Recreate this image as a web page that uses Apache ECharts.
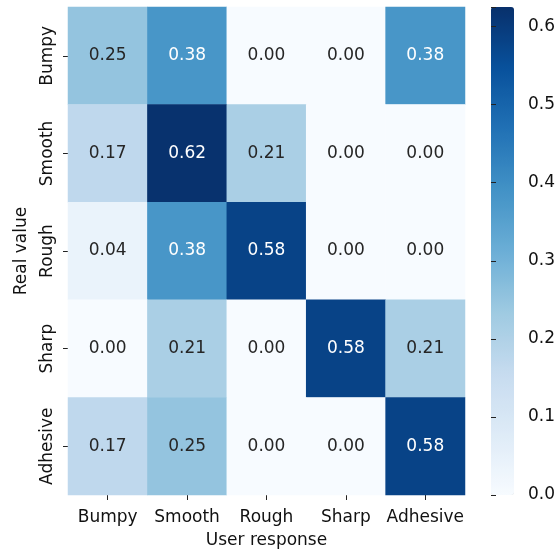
<!DOCTYPE html>
<html>
<head>
<meta charset="utf-8">
<script src="https://cdn.jsdelivr.net/npm/echarts@6/dist/echarts.min.js"></script>
<style>
  html, body { margin: 0; padding: 0; background: #fff; }
  #main { width: 558px; height: 550px; }
</style>
</head>
<body>
<div id="main"></div>
<script>
// confusion matrix: rows = real value, cols = user response
var responses = ['Bumpy', 'Smooth', 'Rough', 'Sharp', 'Adhesive'];
var realValues = ['Bumpy', 'Smooth', 'Rough', 'Sharp', 'Adhesive'];
var rowBumpy    = [0.25, 0.38, 0.00, 0.00, 0.38];
var rowSmooth   = [0.17, 0.62, 0.21, 0.00, 0.00];
var rowRough    = [0.04, 0.38, 0.58, 0.00, 0.00];
var rowSharp    = [0.00, 0.21, 0.00, 0.58, 0.21];
var rowAdhesive = [0.17, 0.25, 0.00, 0.00, 0.58];
var colorbarTicks = [0, 0.1, 0.2, 0.3, 0.4, 0.5, 0.6];

var rows = [rowBumpy, rowSmooth, rowRough, rowSharp, rowAdhesive];
var blues = ['#f7fbff', '#deebf7', '#c6dbef', '#9ecae1', '#6baed6', '#4292c6', '#2171b5', '#08519c', '#08306b'];

var cells = [];
rows.forEach(function (row, r) {
    row.forEach(function (v, c) {
        cells.push({
            value: [c, r, v],
            label: { color: v > 0.3 ? '#ffffff' : '#262626' }
        });
    });
});

var txt = '#111';
var font = 'DejaVu Sans';
var fs = 17;
var hiddenLine = { show: true, lineStyle: { color: 'rgba(0,0,0,0)' } };

var myChart = echarts.init(document.getElementById('main'));
var option = {
    animation: false,
    textStyle: { fontFamily: font },
    grid: [
        { left: 68, top: 7, width: 397, height: 488, outerBoundsMode: 'none', containLabel: false },
        { left: 491, top: 7, width: 23, height: 488, outerBoundsMode: 'none', containLabel: false }
    ],
    xAxis: [{
        gridIndex: 0,
        type: 'category',
        data: responses,
        name: 'User response',
        nameLocation: 'middle',
        nameGap: 37,
        nameTextStyle: { color: txt, fontSize: fs, fontFamily: font },
        axisLine: hiddenLine,
        axisTick: { show: true, alignWithLabel: true, length: 5, lineStyle: { color: '#222' } },
        axisLabel: { color: txt, fontSize: fs, fontFamily: font, margin: 14, interval: 0 },
        splitLine: { show: false }
    }, {
        gridIndex: 1,
        type: 'value',
        show: false
    }],
    yAxis: [{
        gridIndex: 0,
        type: 'category',
        data: realValues,
        inverse: true,
        name: 'Real value',
        nameLocation: 'middle',
        nameGap: 38,
        nameTextStyle: { color: txt, fontSize: fs, fontFamily: font },
        axisLine: hiddenLine,
        axisTick: { show: true, alignWithLabel: true, length: 5, lineStyle: { color: '#222' } },
        axisLabel: { color: txt, fontSize: fs, fontFamily: font, rotate: 90, margin: 12, interval: 0 },
        splitLine: { show: false }
    }, {
        gridIndex: 1,
        type: 'value',
        position: 'right',
        z: 10,
        min: 0,
        max: 0.625,
        interval: 0.1,
        axisLine: hiddenLine,
        axisTick: { show: true, inside: false, length: 5, lineStyle: { color: '#222' } },
        axisLabel: {
            color: txt, fontSize: fs, fontFamily: font, margin: 14,
            customValues: colorbarTicks,
            formatter: function (v) { return v.toFixed(1); }
        },
        splitLine: { show: false }
    }],
    visualMap: {
        type: 'continuous',
        seriesIndex: 0,
        min: 0,
        max: 0.625,
        calculable: false,
        hoverLink: false,
        left: 491,
        top: 7,
        itemWidth: 23,
        itemHeight: 488,
        padding: 0,
        text: null,
        inRange: { color: blues }
    },
    series: [{
        type: 'heatmap',
        xAxisIndex: 0,
        yAxisIndex: 0,
        data: cells,
        label: {
            show: true,
            fontSize: fs,
            fontFamily: font,
            formatter: function (p) { return p.value[2].toFixed(2); }
        },
        itemStyle: { borderWidth: 0 }
    }, {
        type: 'line',
        xAxisIndex: 1,
        yAxisIndex: 1,
        data: []
    }]
};
myChart.setOption(option);
</script>
</body>
</html>
